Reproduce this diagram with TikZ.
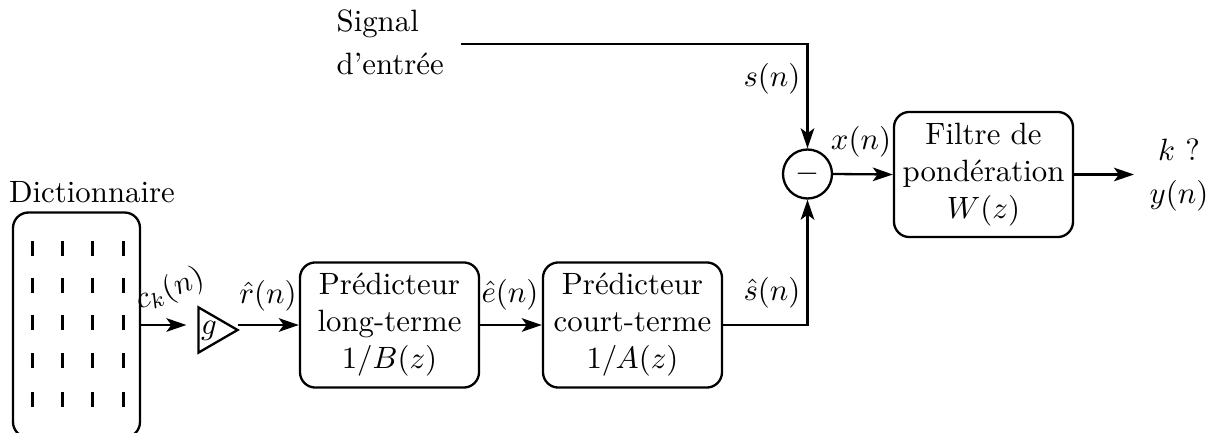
\documentclass[tikz,border=0pt]{standalone}
\usetikzlibrary{arrows.meta,calc}
\begin{document}
\begin{tikzpicture}[x=0.3245pt,y=-0.3245pt,
  line/.style={line width=0.75pt},
  arr/.style={line width=0.75pt,-{Stealth[length=6.5pt,width=4.4pt,inset=1.6pt]}},
  blockbox/.style={draw,line width=0.75pt,rounded corners=5pt,align=center,minimum width=58.1pt,minimum height=40.6pt,inner sep=1pt},
  dictbox/.style={draw,line width=0.75pt,rounded corners=5pt,minimum width=41.2pt,minimum height=73pt,inner sep=0pt},
  gainbox/.style={inner sep=0pt,minimum width=12.3pt,minimum height=14.3pt},
  sumnode/.style={draw,line width=0.75pt,circle,minimum size=15.9pt,inner sep=0pt},
  dashmark/.style={line width=0.9pt},
  lbl/.style={inner sep=0pt}]
\useasboundingbox (0,0) rectangle (1216,433);

% Dictionary
\node[dictbox] (dict) at (76.5,325) {};
\node[lbl] (dictlbl) at (92,192.5) {Dictionnaire};
\foreach \cx in {32.3,62.3,92.3,123.3}
  \foreach \cy in {248.3,285.8,322.5,360.8,399.2}
    \draw[dashmark] (\cx,\cy-7.5) -- (\cx,\cy+7.5);

% Gain
\node[gainbox] (gain) at (218,330) {};
\draw[line,line join=miter] (gain.north west) -- (gain.south west) -- (gain.east) -- cycle;
\node[lbl] (gtxt) at (209,330.5) {$g$};

% Blocks
\node[blockbox] (pl) at (389.5,325) {Prédicteur\\long-terme\\$1/B(z)$};
\node[blockbox] (pc) at (632.5,325) {Prédicteur\\court-terme\\$1/A(z)$};
\node[sumnode] (sum) at (807.5,174) {$-$};
\node[blockbox] (filt) at (983.5,174.5) {Filtre de\\pondération\\$W(z)$};
\node[lbl,align=center] (out) at (1179,175) {$k$ ?\\[2pt]$y(n)$};
\node[lbl,align=left,anchor=west] (sig) at (336,42) {Signal\\[2pt]d'entrée};
\coordinate (sin) at (461,44);
\coordinate (outin) at (1134,174.5);

% Connectors
\draw[arr,shorten >=3.9pt] (dict.east) -- (dict.east -| gain.west);
\draw[arr] (gain.east |- pl.west) -- (pl.west);
\draw[arr] (pl.east) -- (pc.west);
\draw[arr] (pc.east) -- (pc.east -| sum.south) -- (sum.south);
\draw[arr] (sin) -- (sin -| sum.north) -- (sum.north);
\draw[arr] (sum.east) -- (filt.west);
\draw[arr] (filt.east) -- (outin);

% Labels
\node[lbl,rotate=21] (ck) at (170,290) {$c_k(n)$};
\node[lbl] (rh) at (268,296) {$\hat r(n)$};
\node[lbl] (eh) at (510,295) {$\hat e(n)$};
\node[lbl] (shat) at (772,293) {$\hat s(n)$};
\node[lbl] (sn) at (772,79) {$s(n)$};
\node[lbl] (xn) at (861,142) {$x(n)$};
\end{tikzpicture}
\end{document}
